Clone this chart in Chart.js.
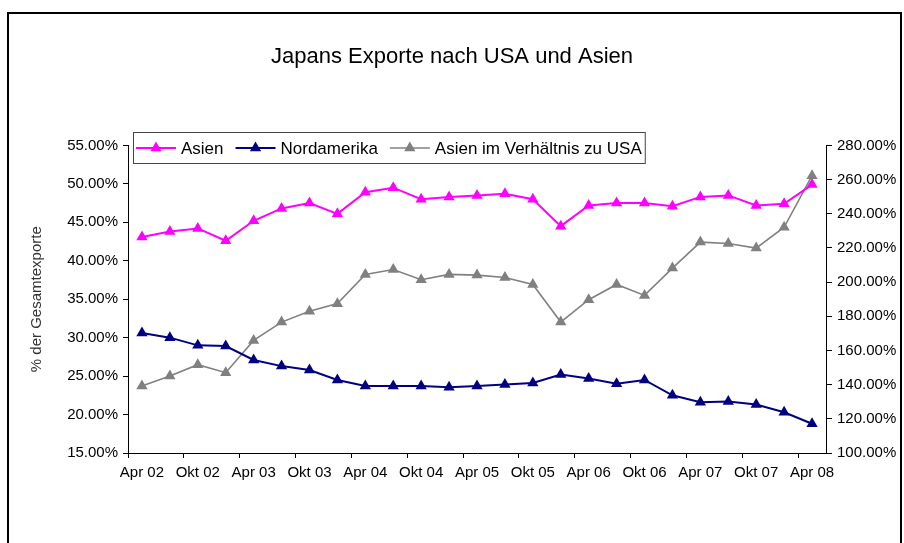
<!doctype html>
<html>
<head>
  <meta charset="utf-8" />
  <title>Japans Exporte nach USA und Asien</title>
  <style>
    body { margin:0; background:#fff; font-family: "Liberation Sans", Arial, sans-serif; }
    #wrap { position:relative; width:904px; height:543px; overflow:hidden; }
    #frame { position:absolute; left:7px; top:12px; width:895px; height:600px; border:2px solid #000; box-sizing:border-box; }
    #chart { position:absolute; left:0; top:0; }
  </style>
  <script src="https://cdn.jsdelivr.net/npm/chart.js"></script>
</head>
<body>
<div id="wrap">
  <div id="frame"></div>
  <canvas id="chart" width="904" height="543"></canvas>
</div>

<script>
// quarterly categories, only Apr / Okt get a tick label
const quarters = ['Apr 02','Jul 02','Okt 02','Jan 03','Apr 03','Jul 03','Okt 03','Jan 04','Apr 04','Jul 04','Okt 04','Jan 05',
  'Apr 05','Jul 05','Okt 05','Jan 06','Apr 06','Jul 06','Okt 06','Jan 07','Apr 07','Jul 07','Okt 07','Jan 08','Apr 08'];
const tickLabels = ['Apr 02','','Okt 02','','Apr 03','','Okt 03','','Apr 04','','Okt 04','',
  'Apr 05','','Okt 05','','Apr 06','','Okt 06','','Apr 07','','Okt 07','','Apr 08'];

// % der Gesamtexporte (left axis)
const asien = [43.1, 43.8, 44.2, 42.6, 45.2, 46.8, 47.5, 46.1, 48.9, 49.5, 48.0, 48.3, 48.5,
  48.7, 48.0, 44.5, 47.2, 47.5, 47.5, 47.1, 48.3, 48.5, 47.2, 47.4, 49.9];
const nordamerika = [30.6, 30.0, 29.0, 28.9, 27.1, 26.3, 25.8, 24.5, 23.7, 23.7, 23.7, 23.55, 23.7,
  23.9, 24.1, 25.2, 24.7, 24.0, 24.5, 22.5, 21.6, 21.7, 21.3, 20.3, 18.8];
// Asien im Verhältnis zu USA (right axis)
const verhaeltnis = [139.2, 145.0, 151.7, 147.0, 165.9, 176.6, 183.0, 187.4, 204.5, 207.4, 201.4, 204.5, 204.1,
  202.7, 198.6, 176.6, 189.7, 198.6, 192.2, 208.2, 223.4, 222.6, 219.9, 232.1, 262.3];

const FONT = '"Liberation Sans", Arial, sans-serif';
const MARK = 6.5;

// legend drawn as a boxed row overlapping the top of the plot
const boxLegend = {
  id: 'boxLegend',
  afterDraw(chart) {
    const ctx = chart.ctx;
    const y = 148;
    ctx.save();
    ctx.font = '17px ' + FONT;
    let x = 136;
    const items = [];
    chart.data.datasets.forEach(ds => {
      const w = ctx.measureText(ds.label).width;
      items.push({ ds, x, w });
      x += 45 + w + 12;
    });
    const right = x - 12 + 3;
    ctx.fillStyle = '#fff';
    ctx.fillRect(133, 132, right - 133, 31);
    ctx.strokeStyle = '#444';
    ctx.lineWidth = 1;
    ctx.strokeRect(133.5, 132.5, right - 133, 31);
    items.forEach(it => {
      ctx.strokeStyle = it.ds.borderColor;
      ctx.lineWidth = it.ds.borderWidth;
      ctx.beginPath();
      ctx.moveTo(it.x, y);
      ctx.lineTo(it.x + 40, y);
      ctx.stroke();
      ctx.fillStyle = it.ds.borderColor;
      Chart.helpers.drawPoint(ctx, { pointStyle: 'triangle', radius: MARK, borderWidth: 0 }, it.x + 20, y);
      ctx.fillStyle = '#000';
      ctx.textBaseline = 'middle';
      ctx.textAlign = 'left';
      ctx.fillText(it.ds.label, it.x + 45, y + 1);
    });
    ctx.restore();
  }
};

const ctx = document.getElementById('chart').getContext('2d');
new Chart(ctx, {
  type: 'line',
  data: {
    labels: quarters,
    datasets: [
      { label: 'Asien', data: asien, yAxisID: 'y', borderColor: '#ff00ff', backgroundColor: '#ff00ff',
        borderWidth: 2, pointStyle: 'triangle', pointRadius: MARK, pointBorderWidth: 0 },
      { label: 'Nordamerika', data: nordamerika, yAxisID: 'y', borderColor: '#000080', backgroundColor: '#000080',
        borderWidth: 2, pointStyle: 'triangle', pointRadius: MARK, pointBorderWidth: 0 },
      { label: 'Asien im Verhältnis zu USA', data: verhaeltnis, yAxisID: 'y1', borderColor: '#808080', backgroundColor: '#808080',
        borderWidth: 1.6, pointStyle: 'triangle', pointRadius: MARK, pointBorderWidth: 0 }
    ]
  },
  options: {
    responsive: false,
    animation: false,
    layout: { padding: 0 },
    plugins: {
      legend: { display: false },
      tooltip: { enabled: false },
      title: {
        display: true,
        text: 'Japans Exporte nach USA und Asien',
        color: '#000',
        font: { family: FONT, size: 22, weight: 'normal' },
        padding: { top: 44, bottom: 75 }
      }
    },
    scales: {
      x: {
        offset: true,
        grid: {
          offset: true, drawOnChartArea: false, tickLength: 5,
          color: c => (c.index % 2 === 0 ? '#000' : 'rgba(0,0,0,0)')
        },
        border: { color: '#000', width: 1 },
        ticks: {
          autoSkip: false, maxRotation: 0, minRotation: 0, padding: 6,
          color: '#000', font: { family: FONT, size: 15 },
          callback: (v, i) => tickLabels[i]
        },
        afterFit: s => { s.height = 90; }
      },
      y: {
        position: 'left',
        min: 15, max: 55,
        grid: { drawOnChartArea: false, tickLength: 5, color: '#000' },
        border: { color: '#000', width: 1 },
        ticks: {
          stepSize: 5, padding: 5, color: '#000', font: { family: FONT, size: 15 },
          callback: v => v.toFixed(2) + '%'
        },
        title: {
          display: true, text: '% der Gesamtexporte', color: '#333',
          font: { family: FONT, size: 15 }, padding: { top: 28, bottom: 0 }
        },
        afterFit: s => { s.width = 128; }
      },
      y1: {
        position: 'right',
        min: 100, max: 280,
        grid: { drawOnChartArea: false, tickLength: 6, color: '#000' },
        border: { color: '#000', width: 1 },
        ticks: {
          stepSize: 20, padding: 5, color: '#000', font: { family: FONT, size: 15 },
          callback: v => v.toFixed(2) + '%'
        },
        afterFit: s => { s.width = 78; }
      }
    }
  },
  plugins: [boxLegend]
});
</script>
</body>
</html>
